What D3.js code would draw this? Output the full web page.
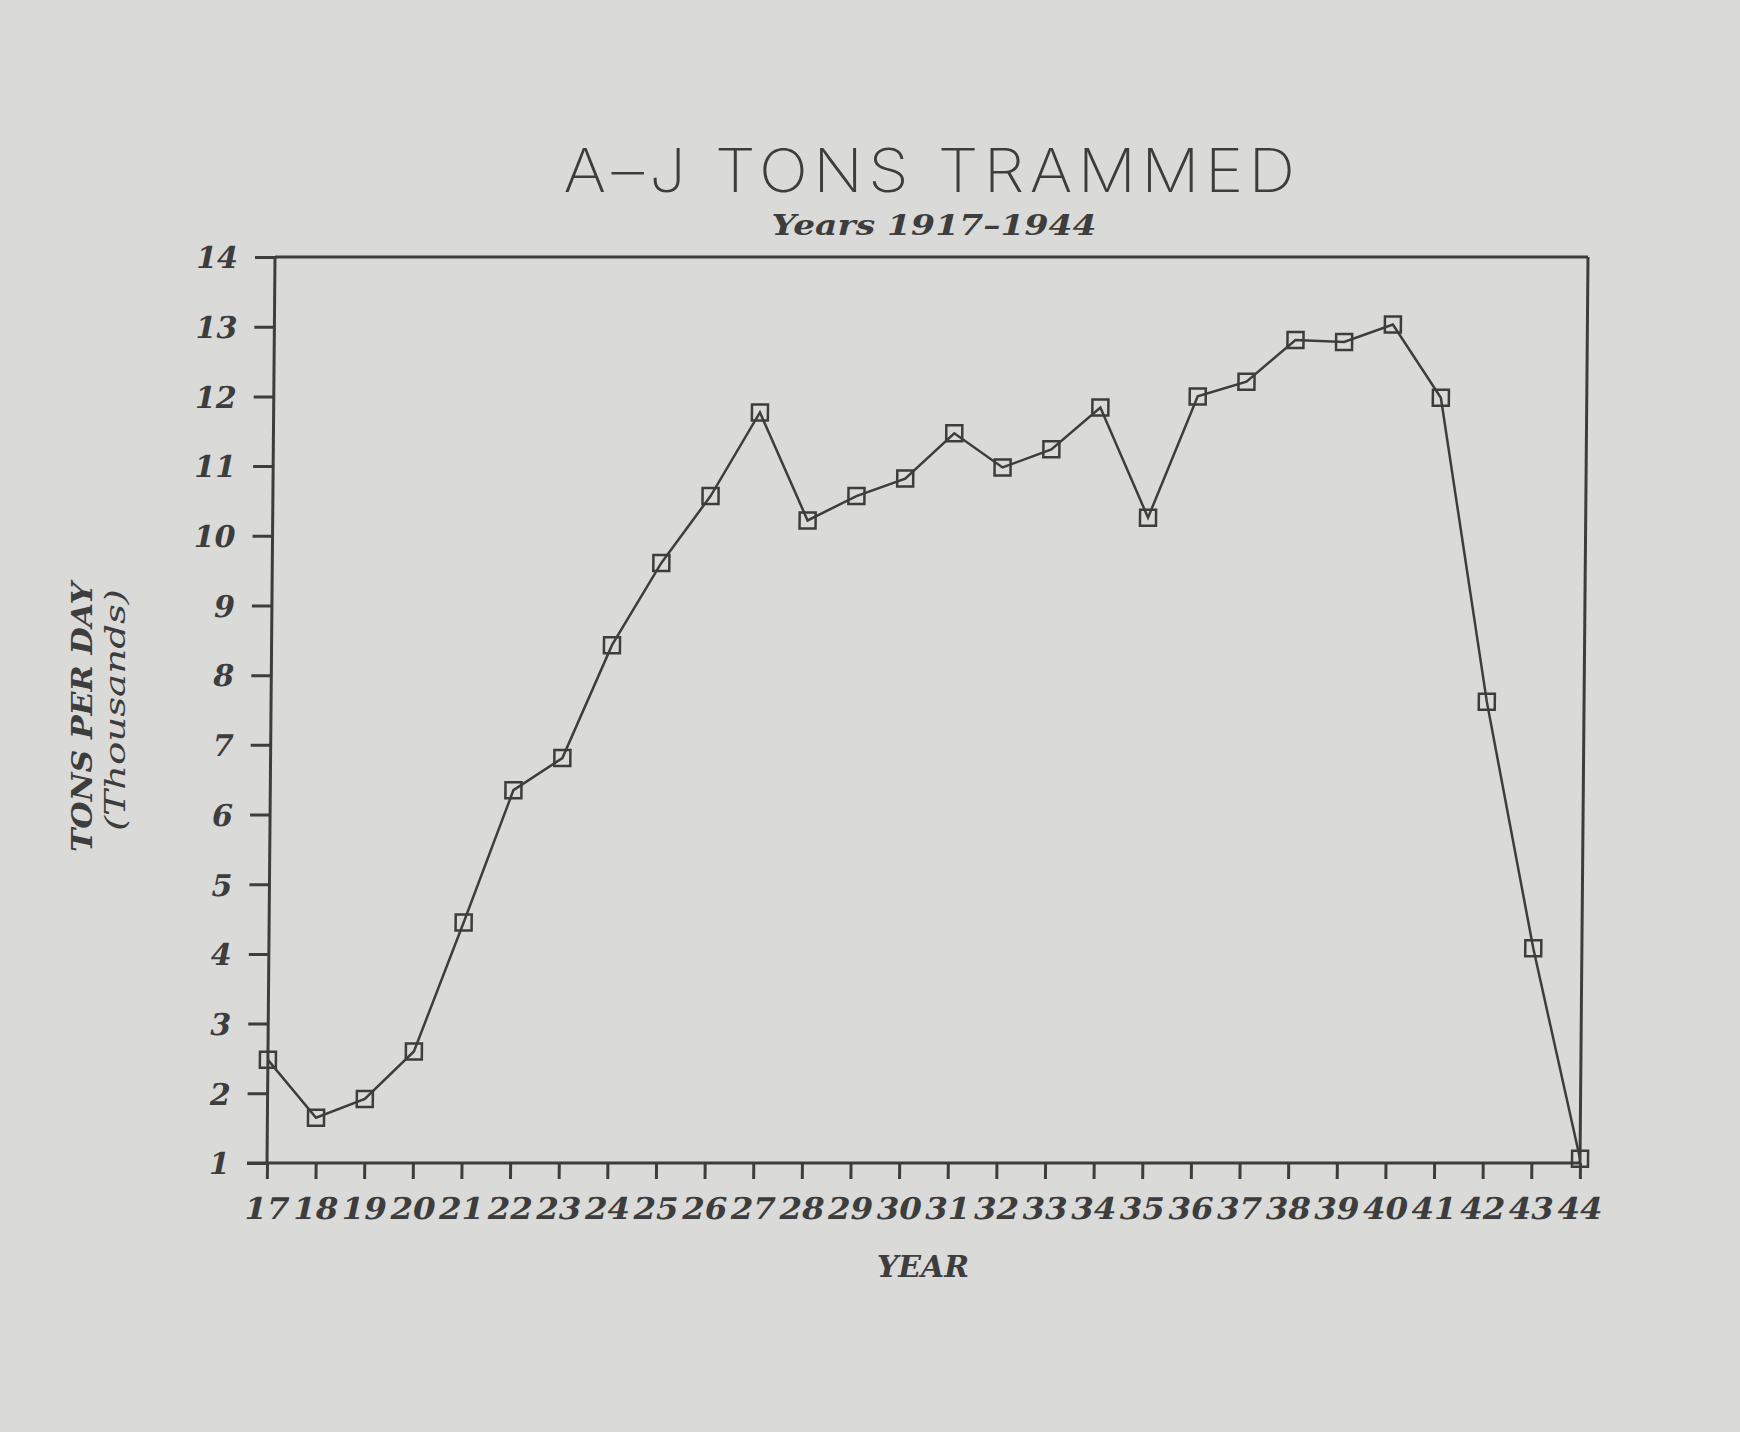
<!DOCTYPE html>
<html>
<head>
<meta charset="utf-8">
<script src="https://cdnjs.cloudflare.com/ajax/libs/d3/7.8.5/d3.min.js"></script>
<style>
  html, body { margin: 0; padding: 0; background: #dadad8; }
  svg { display: block; }
</style>
</head>
<body>
<svg id="chart" width="1740" height="1432"></svg>
<script>
// ---- data ----
const years = ["17","18","19","20","21","22","23","24","25","26","27","28","29","30",
               "31","32","33","34","35","36","37","38","39","40","41","42","43","44"];
const tons = [2.48, 1.65, 1.92, 2.60, 4.45, 6.35, 6.81, 8.43, 9.61, 10.57, 11.77, 10.22, 10.57, 10.82,
              11.47, 10.98, 11.24, 11.84, 10.26, 12.00, 12.21, 12.81, 12.78, 13.03, 11.98, 7.62, 4.08, 1.06];
const yTicks = [1,2,3,4,5,6,7,8,9,10,11,12,13,14];
const titleText = "A\u2013J TONS TRAMMED";
const subtitleText = "Years 1917\u20131944";
const xTitle = "YEAR";
const yTitle = "TONS PER DAY";
const yTitle2 = "(Thousands)";

(function () {
// ---- layout ----
const ink = "#3d3d3d";
const pL = 267, pR = 1580, pT = 257, pB = 1163;
const labelFont = "'DejaVu Serif', 'Liberation Serif', serif";

const svg = d3.select("#chart");
svg.append("rect").attr("width", 1740).attr("height", 1432).attr("fill", "#dadad8");

const x = d3.scalePoint().domain(years).range([pL, pR]);
const y = d3.scaleLinear().domain([1, 14]).range([pB, pT]);

// the scanned chart is slightly sheared: top shifted right
const g = svg.append("g")
  .attr("transform", `translate(0,${pB}) skewX(-0.506) translate(0,${-pB})`);

// frame (top and right)
g.append("line").attr("x1", pL).attr("x2", pR).attr("y1", pT).attr("y2", pT)
  .attr("stroke", ink).attr("stroke-width", 3);
g.append("line").attr("x1", pR).attr("x2", pR).attr("y1", pT).attr("y2", pB)
  .attr("stroke", ink).attr("stroke-width", 3);

// y axis
const yAxis = g.append("g").attr("transform", `translate(${pL},0)`)
  .call(d3.axisLeft(y).tickValues(yTicks).tickSize(20).tickPadding(17).tickFormat(d3.format("d")));
yAxis.select(".domain").attr("stroke", ink).attr("stroke-width", 3)
  .attr("d", `M0,${pT}V${pB}`);
yAxis.selectAll(".tick line").attr("stroke", ink).attr("stroke-width", 3);
yAxis.selectAll(".tick text")
  .attr("fill", ink).attr("font-family", labelFont).attr("font-style", "italic")
  .attr("font-weight", "bold").attr("font-size", 30).attr("dy", "0.36em");

// x axis
const xAxis = g.append("g").attr("transform", `translate(0,${pB})`)
  .call(d3.axisBottom(x).tickSize(16).tickPadding(19));
xAxis.select(".domain").attr("stroke", ink).attr("stroke-width", 3)
  .attr("d", `M${pL - 20},0H${pR}`);
xAxis.selectAll(".tick line").attr("stroke", ink).attr("stroke-width", 3);
xAxis.selectAll(".tick text")
  .attr("fill", ink).attr("font-family", labelFont).attr("font-style", "italic")
  .attr("font-weight", "bold").attr("font-size", 30).attr("dy", "0.71em")
  .attr("textLength", 45).attr("lengthAdjust", "spacingAndGlyphs");

// data line
const line = d3.line().x((d, i) => x(years[i])).y(d => y(d));
g.append("path").datum(tons).attr("d", line)
  .attr("fill", "none").attr("stroke", ink).attr("stroke-width", 2.5);

// square markers
const ms = 16;
g.selectAll("rect.mk").data(tons).enter().append("rect").attr("class", "mk")
  .attr("x", (d, i) => x(years[i]) - ms / 2).attr("y", d => y(d) - ms / 2)
  .attr("width", ms).attr("height", ms)
  .attr("fill", "none").attr("stroke", ink).attr("stroke-width", 2.5);

// titles
svg.append("text").attr("x", 932).attr("y", 192).attr("text-anchor", "middle")
  .attr("font-family", "Inter, 'DejaVu Sans', sans-serif").attr("font-weight", 250)
  .attr("font-size", 60).attr("fill", ink).attr("letter-spacing", 5)
  .attr("textLength", 737).attr("lengthAdjust", "spacingAndGlyphs")
  .text(titleText);

svg.append("text").attr("x", 934).attr("y", 235).attr("text-anchor", "middle")
  .attr("font-family", labelFont).attr("font-style", "italic").attr("font-weight", "bold")
  .attr("font-size", 28).attr("fill", ink)
  .attr("textLength", 325).attr("lengthAdjust", "spacingAndGlyphs")
  .text(subtitleText);

svg.append("text").attr("x", 923).attr("y", 1277).attr("text-anchor", "middle")
  .attr("font-family", labelFont).attr("font-style", "italic").attr("font-weight", "bold")
  .attr("font-size", 29).attr("fill", ink)
  .attr("textLength", 92).attr("lengthAdjust", "spacingAndGlyphs")
  .text(xTitle);

svg.append("text").attr("transform", "translate(92,717) rotate(-90)")
  .attr("text-anchor", "middle")
  .attr("font-family", labelFont).attr("font-style", "italic").attr("font-weight", "bold")
  .attr("font-size", 28).attr("fill", ink)
  .attr("textLength", 270).attr("lengthAdjust", "spacingAndGlyphs")
  .text(yTitle);

svg.append("text").attr("transform", "translate(125,710) rotate(-90)")
  .attr("text-anchor", "middle")
  .attr("font-family", labelFont).attr("font-style", "italic")
  .attr("font-size", 28).attr("fill", ink)
  .attr("textLength", 242).attr("lengthAdjust", "spacingAndGlyphs")
  .text(yTitle2);
})();
</script>
</body>
</html>
